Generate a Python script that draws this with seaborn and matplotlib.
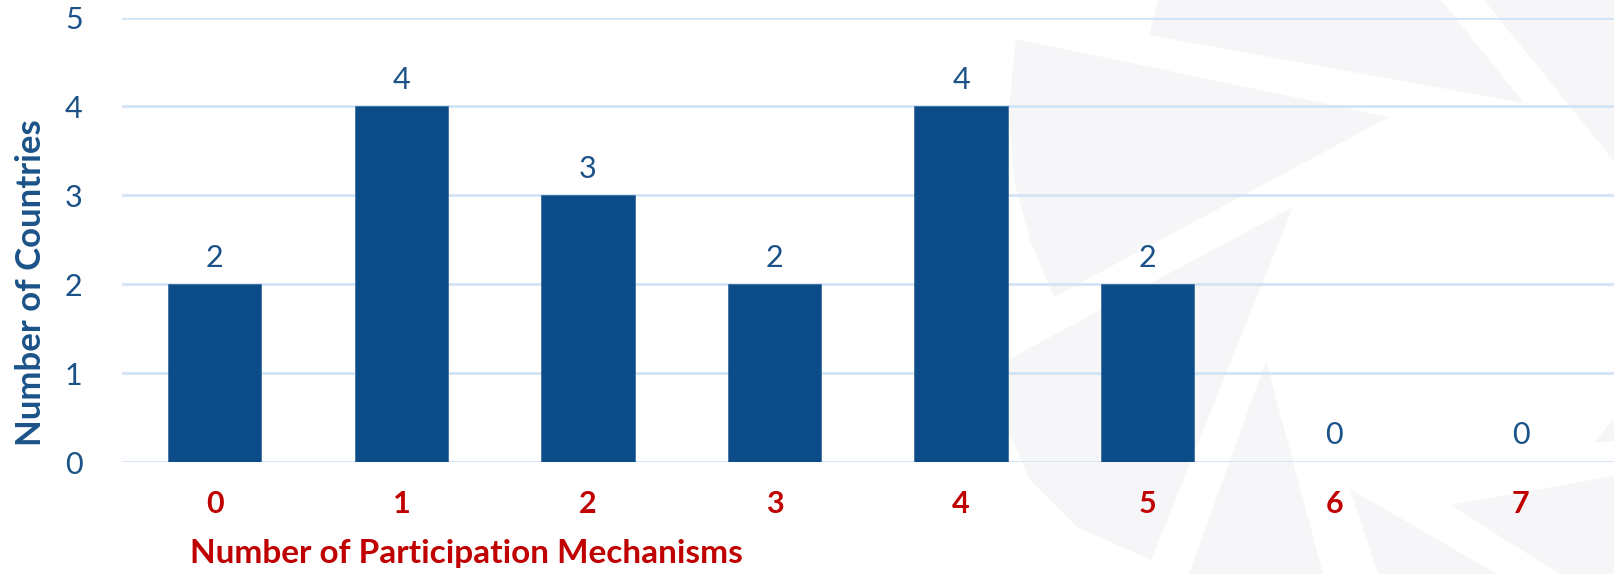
import matplotlib
matplotlib.use("Agg")
import matplotlib.pyplot as plt
from matplotlib.patches import Polygon
import seaborn as sns
import pandas as pd

categories = ["0", "1", "2", "3", "4", "5", "6", "7"]
countries = [2, 4, 3, 2, 4, 2, 0, 0]
y_ticks = [0, 1, 2, 3, 4, 5]
x_label = "Number of Participation Mechanisms"
y_label = "Number of Countries"

BAR = "#0C4C88"
BLUE = "#1B5288"
RED = "#C00000"
GRID = "#D0E4F6"
WM = "#F6F6F8"

sns.set_theme(style="white")
plt.rcParams["font.family"] = ["Lato", "DejaVu Sans"]

fig = plt.figure(figsize=(16.14, 5.74), dpi=100)
fig.patch.set_facecolor("white")

# decorative background watermark (figure pixel coords, origin top-left)
W, H = 1614.0, 574.0
shapes = [
    [(1158, 0), (1149, 35), (1524, 103), (1441, 0)],
    [(1484, 0), (1614, 0), (1614, 161)],
    [(1016, 39), (1389, 117), (1054, 297), (1030, 240), (1014, 180), (1009, 110)],
    [(1293, 207), (1009, 359), (1003, 420), (1030, 480), (1077, 527), (1151, 560)],
    [(1266, 361), (1189, 574), (1323, 574)],
    [(1350, 489), (1378, 574), (1497, 574)],
    [(1450, 505), (1614, 476), (1614, 574), (1560, 574)],
    [(1594, 443), (1614, 418), (1614, 441)],
]
for s in shapes:
    pts = [(x / W, 1 - y / H) for x, y in s]
    fig.patches.append(Polygon(pts, closed=True, transform=fig.transFigure,
                               facecolor=WM, edgecolor="none", zorder=-5))

ax = fig.add_axes([121.5 / W, 1 - 462 / H, 1 - 121.5 / W, (462 - 17.5) / H])
ax.set_facecolor("none")
ax.set_zorder(1)

df = pd.DataFrame({"mech": categories, "count": countries})
sns.barplot(data=df, x="mech", y="count", order=categories, color=BAR,
            width=0.5, saturation=1, ax=ax, zorder=3, edgecolor="#3F6FA0",
            linewidth=0.6)

for c in ax.containers:
    ax.bar_label(c, labels=[str(v) for v in countries], padding=9,
                 fontsize=22, color=BLUE, zorder=4)

ax.set_xlim(-0.5, len(categories) - 0.5)
ax.set_ylim(0, 5)
ax.set_yticks(y_ticks)
ax.set_yticklabels([str(t) for t in y_ticks], fontsize=22, color=BLUE)
ax.set_xticks(range(len(categories)))
ax.set_xticklabels(categories, fontsize=22, color=RED, fontweight="bold")
ax.tick_params(axis="y", length=0, pad=28)
ax.tick_params(axis="x", length=0, pad=20)

ax.yaxis.grid(True, color=GRID, linewidth=2, zorder=1)
ax.set_axisbelow(True)
for sp in ax.spines.values():
    sp.set_visible(False)

ax.set_xlabel(x_label, fontsize=24, fontweight="bold", color=RED, labelpad=0)
ax.xaxis.set_label_coords((466 - 121.5) / (W - 121.5), -(553 - 462) / (462 - 17.5))
ax.xaxis.label.set_va("center")
ax.set_ylabel(y_label, fontsize=25, fontweight="bold", color=BLUE)
ax.yaxis.set_label_coords(-(121.5 - 31) / (W - 121.5), (462 - 283) / (462 - 17.5))
ax.yaxis.label.set_va("center")

fig.savefig("out.png", dpi=100, facecolor="white")
